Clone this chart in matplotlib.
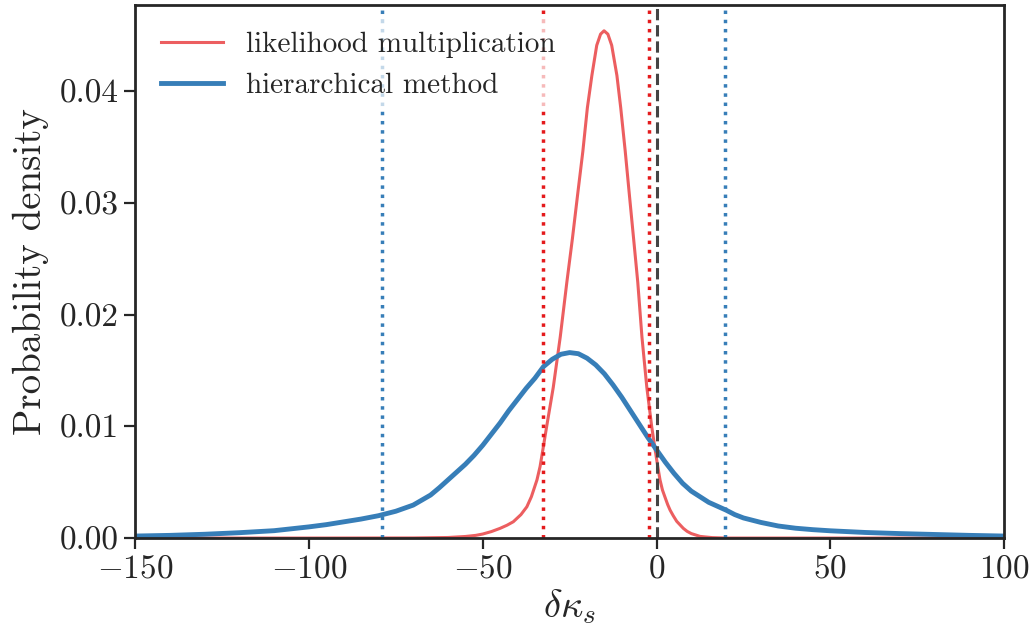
import numpy as np
import matplotlib
matplotlib.use("Agg")
import matplotlib.pyplot as plt

plt.rcParams['font.family'] = 'serif'
plt.rcParams['font.serif'] = ['cmr10']
plt.rcParams['mathtext.fontset'] = 'cm'
plt.rcParams['axes.formatter.use_mathtext'] = True
plt.rcParams['axes.unicode_minus'] = True

# likelihood multiplication
x_mult = [-150, -100, -70, -60, -55, -52, -50, -47.5, -45, -43, -41.2, -39, -37.3,
          -36, -34.4, -33.5, -32.7, -31.6, -29.7, -27.7, -25.8, -24.2, -22.6,
          -21.2, -19.9, -18.6, -17.2, -16.1, -15.1, -14.0, -12.9, -11.4, -10.3,
          -9.0, -7.9, -6.6, -5.4, -4.2, -2.8, -1.4, -0.4, 0.3, 1.0, 1.7, 2.5,
          3.2, 3.9, 4.8, 5.8, 6.7, 7.7, 8.8, 10.0, 11.0, 12.5, 14, 16, 20, 30, 100]
y_mult = [0.0, 0.0, 0.00001, 0.00005, 0.00014, 0.00024, 0.00036, 0.00058, 0.00087,
          0.00115, 0.00146, 0.0021, 0.0028, 0.0037, 0.0052, 0.0064, 0.0079,
          0.0100, 0.0135, 0.0180, 0.0229, 0.0268, 0.0310, 0.0346, 0.0385, 0.0414,
          0.0441, 0.0451, 0.0454, 0.0451, 0.0441, 0.0414, 0.0385, 0.0346, 0.0310,
          0.0268, 0.0229, 0.0180, 0.0135, 0.0100, 0.0079, 0.0065, 0.0052, 0.0043,
          0.0036, 0.0030, 0.0025, 0.0020, 0.0015, 0.0012, 0.00087, 0.0006, 0.0004,
          0.0003, 0.00015, 0.0001, 0.00004, 0.0, 0.0, 0.0]

# hierarchical method
x_hier = [-150, -140, -130, -120, -110, -100, -95, -90, -85, -80, -75, -70, -65,
          -62.5, -60, -57.5, -55, -52.5, -50, -47.5, -45, -42.5, -40, -37.5, -35,
          -32.5, -30, -27.5, -25, -22.5, -20, -17.5, -15, -12.5, -10, -7.5, -5,
          -2.5, 0, 2.5, 5, 7.5, 10, 12.5, 15, 17.5, 20, 22.5, 25, 27.5, 30, 35,
          40, 45, 50, 60, 70, 80, 90, 100]
y_hier = [0.00018, 0.00024, 0.00034, 0.00048, 0.00066, 0.00100, 0.0012, 0.00145,
          0.0017, 0.00200, 0.0024, 0.00295, 0.00385, 0.0045, 0.0052, 0.0059,
          0.0066, 0.0074, 0.0083, 0.0093, 0.0103, 0.0114, 0.0124, 0.0134, 0.0143,
          0.01535, 0.0160, 0.01645, 0.0166, 0.0165, 0.0161, 0.0155, 0.0147,
          0.0137, 0.0126, 0.0114, 0.0102, 0.0090, 0.0079, 0.0068, 0.0058, 0.0049,
          0.0042, 0.0037, 0.0032, 0.00285, 0.0025, 0.0021, 0.0018, 0.0016,
          0.0014, 0.00108, 0.00088, 0.00075, 0.00065, 0.0005, 0.0004, 0.00032,
          0.00024, 0.00018]

# credible interval bounds
ci_mult = [-32.6, -2.2]
ci_hier = [-79.0, 19.6]

red = '#e41a1c'
blue = '#377eb8'

fig = plt.figure(figsize=(10.31, 6.36), dpi=100)
ax = fig.add_axes([0.131, 0.154, 0.843, 0.838])

ax.plot(x_mult, y_mult, color=red, alpha=0.7, lw=2.2, label='likelihood multiplication')
ax.plot(x_hier, y_hier, color=blue, lw=3.5, label='hierarchical method')

for v in ci_mult:
    ax.axvline(v, color=red, ls=':', lw=2.5)
for v in ci_hier:
    ax.axvline(v, color=blue, ls=':', lw=2.5)
ax.axvline(0, color='#444444', ls='--', lw=2.2)

ax.set_xlim(-150, 100)
ax.set_ylim(0, 0.0477)
ax.set_yticks([0, 0.01, 0.02, 0.03, 0.04])
ax.set_yticklabels(['0.00', '0.01', '0.02', '0.03', '0.04'])
ax.set_xticks([-150, -100, -50, 0, 50, 100])

ax.tick_params(labelsize=24, length=8, width=1.6, color='#262626', labelcolor='#262626')
for s in ax.spines.values():
    s.set_linewidth(2)
    s.set_color('#262626')

ax.set_xlabel(r'$\delta\kappa_s$', fontsize=28, color='#262626', labelpad=3)
ax.set_ylabel('Probability density', fontsize=28, color='#262626', labelpad=8)

leg = ax.legend(loc='upper left', fontsize=21, frameon=True, handlelength=2.1,
                borderaxespad=0.5)
leg.get_frame().set_edgecolor('none')
leg.get_frame().set_facecolor('white')
leg.get_frame().set_alpha(0.7)
for t in leg.get_texts():
    t.set_color('#262626')

fig.savefig('out.png', dpi=100)
